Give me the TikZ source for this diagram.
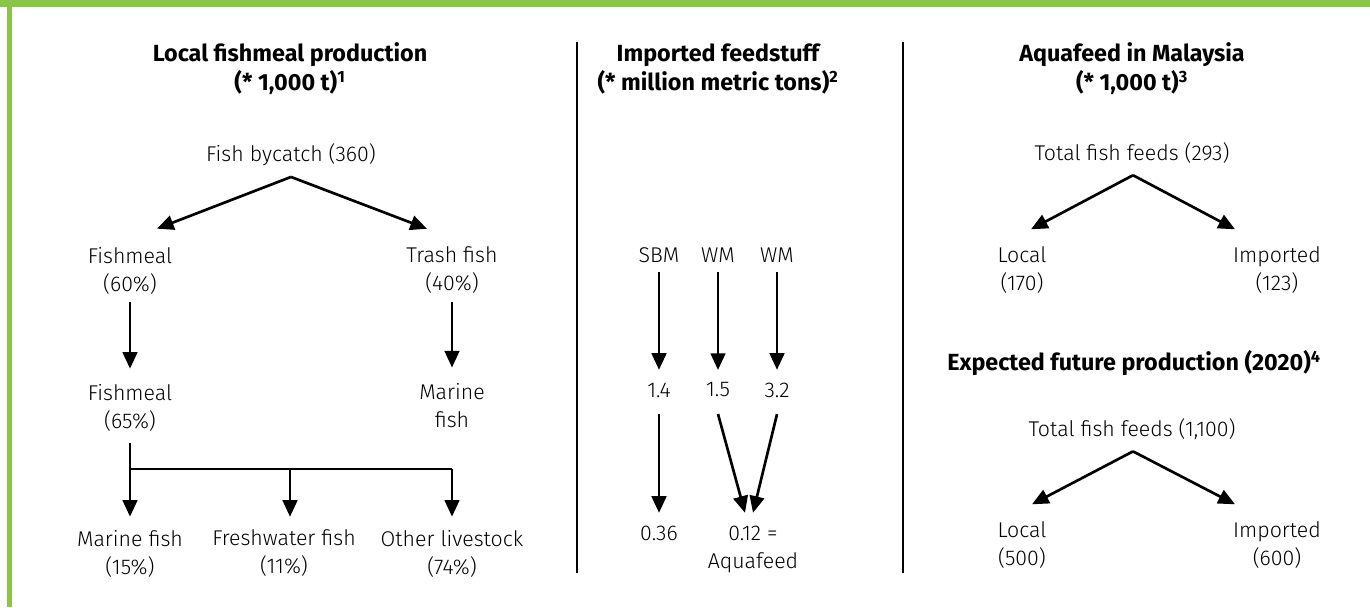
\documentclass[tikz,border=0pt]{standalone}
\usepackage{fontspec}
\setmainfont{Fira Sans}[UprightFont=* Light, BoldFont=* Bold]
\usetikzlibrary{arrows.meta,calc}
\definecolor{framegreen}{RGB}{137,197,70}

\tikzset{
lbl/.style={align=center, inner sep=0pt, font=\fontsize{16pt}{21pt}\selectfont},
hdg/.style={align=center, inner sep=0pt, font=\fontsize{17.5pt}{21.75pt}\selectfont\bfseries},
arr/.style={-{Triangle[length=12.5pt,width=11pt]}}}
\tikzset{every picture/.style={line width=2pt}}

\begin{document}
\begin{tikzpicture}[x=0.75pt,y=0.75pt,yscale=-1,xscale=1]
\useasboundingbox (0,0) rectangle (1370,607);

%Shape: Frame
\fill [framegreen] (0,0) rectangle (1370,7) ;
\fill [framegreen] (7,7) rectangle (12,607) ;
%Straight Lines: separators
\draw (577,42) -- (577,573) ;
\draw (903,42) -- (903,573) ;

% Text Node
\node[hdg] (headLocal) at (290,69) {Local fishmeal production\\(* 1,000 t)\textsuperscript{1}};
% Text Node
\node[hdg] (headImport) at (718,69) {Imported feedstuff\\(* million metric tons)\textsuperscript{2}};
% Text Node
\node[hdg] (headAqua) at (1132,69) {Aquafeed in Malaysia\\(* 1,000 t)\textsuperscript{3}};
% Text Node
\node[hdg] (headFuture) at (1134,363.5) {Expected future production (2020)\textsuperscript{4}};

% Text Node
\node[lbl] (bycatch) at (291,154.5) {Fish bycatch (360)};
% Text Node
\node[lbl] (fmA) at (130,270.5) {Fishmeal\\(60\%)};
% Text Node
\node[lbl] (trash) at (452,270.5) {Trash fish\\(40\%)};
% Text Node
\node[lbl] (fmB) at (130,407.5) {Fishmeal\\(65\%)};
% Text Node
\node[lbl] (marineA) at (452,406) {Marine\\fish};
% Text Node
\node[lbl] (marineB) at (130,553.5) {Marine fish\\(15\%)};
% Text Node
\node[lbl] (fresh) at (284,553.5) {Freshwater fish\\(11\%)};
% Text Node
\node[lbl] (livestock) at (452,553.5) {Other livestock\\(74\%)};

%Straight Lines
\coordinate (bycatchTop) at ($(bycatch.south)+(0,10)$);
\draw [arr] (bycatchTop) -- ($(fmA.north)+(27,-17)$) ;
\draw [arr] (bycatchTop) -- ($(trash.north)+(-25,-17)$) ;
\draw [arr] ($(fmA.south)+(0,7)$) -- ($(fmB.north)+(0,-14)$) ;
\draw [arr] ($(trash.south)+(0,7)$) -- ($(marineA.north)+(0,-15)$) ;
%Straight Lines: split
\coordinate (busL) at (130,469);
\coordinate (busM) at (290,469);
\coordinate (busR) at (452,469);
\draw ($(fmB.south)+(0,11)$) -- (busL) -- (busR) ;
\draw [arr] (busL) -- ($(marineB.north)+(0,-12)$) ;
\draw [arr] (busM) -- ($(busM |- fresh.north)+(0,-12)$) ;
\draw [arr] (busR) -- ($(livestock.north)+(0,-12)$) ;

% Text Node
\node[lbl] (sbm) at (659,255) {SBM};
% Text Node
\node[lbl] (wmA) at (718,255) {WM};
% Text Node
\node[lbl] (wmB) at (777,255) {WM};
% Text Node
\node[lbl] (valA) at (659,390) {1.4};
% Text Node
\node[lbl] (valB) at (718,390) {1.5};
% Text Node
\node[lbl] (valC) at (777,390) {3.2};
% Text Node
\node[lbl] (resA) at (659,533) {0.36};
% Text Node
\node[lbl] (resB) at (753,549) {0.12 =\\Aquafeed};

%Straight Lines
\draw [arr] ($(sbm.south)+(0,8.5)$) -- ($(valA.north)+(0,-11.5)$) ;
\draw [arr] ($(wmA.south)+(0,8.5)$) -- ($(valB.north)+(0,-11.5)$) ;
\draw [arr] ($(wmB.south)+(0,8.5)$) -- ($(valC.north)+(0,-11.5)$) ;
\draw [arr] ($(valA.south)+(0,15.5)$) -- ($(resA.north)+(0,-11.5)$) ;
\draw [arr] ($(valB.south)+(0,15.5)$) -- ($(resB.north)+(-8,-11.5)$) ;
\draw [arr] ($(valC.south)+(0,15.5)$) -- ($(resB.north)+(0,-11.5)$) ;

% Text Node
\node[lbl] (totalA) at (1132,153.5) {Total fish feeds (293)};
% Text Node
\node[lbl] (localA) at (1022,270) {Local\\(170)};
% Text Node
\node[lbl] (importA) at (1277,270) {Imported\\(123)};
% Text Node
\node[lbl] (totalB) at (1132,429.5) {Total fish feeds (1,100)};
% Text Node
\node[lbl] (localB) at (1022,545) {Local\\(500)};
% Text Node
\node[lbl] (importB) at (1277,545) {Imported\\(600)};

%Straight Lines
\coordinate (totalATop) at ($(totalA.south)+(1,10)$);
\draw [arr] (totalATop) -- ($(localA.north)+(9,-16)$) ;
\draw [arr] (totalATop) -- ($(importA.north)+(-42,-16)$) ;
\coordinate (totalBTop) at ($(totalB.south)+(1,10)$);
\draw [arr] (totalBTop) -- ($(localB.north)+(10,-16)$) ;
\draw [arr] (totalBTop) -- ($(importB.north)+(-42,-16)$) ;

\end{tikzpicture}
\end{document}
